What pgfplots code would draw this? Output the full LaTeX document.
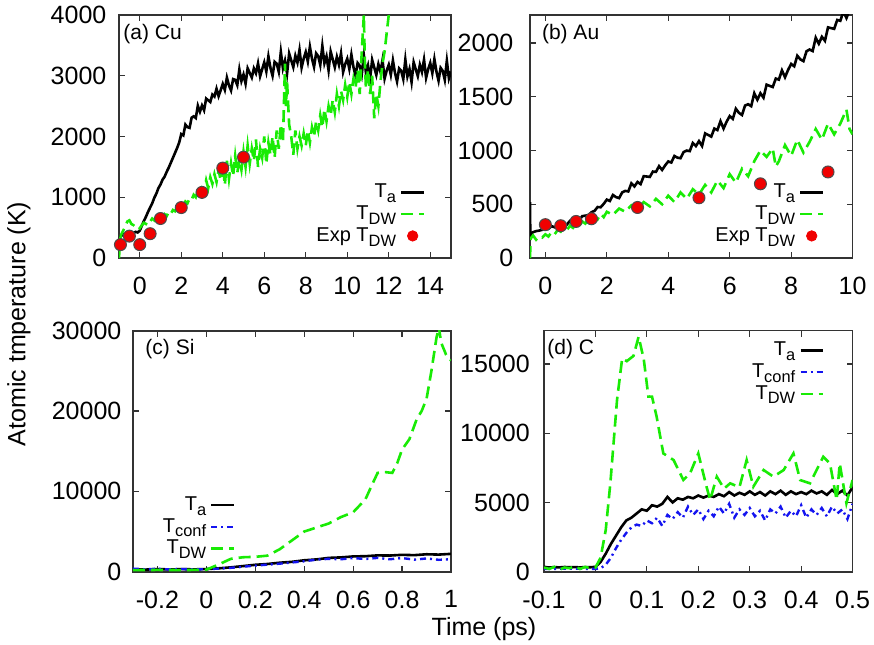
\documentclass[border=0pt]{standalone}
\usepackage{fontspec}
\setmainfont{Liberation Sans}
\usepackage{pgfplots}
\pgfplotsset{compat=1.18}
\definecolor{tdw}{RGB}{25,235,5}
\definecolor{tconf}{RGB}{20,20,240}
\definecolor{expred}{RGB}{240,0,0}
\newcommand{\sub}[1]{\raisebox{-0.45ex}{\fontsize{8.2}{9}\selectfont #1}}

\tikzset{plabel/.style={anchor=west, inner sep=0pt, font=\fontsize{10.5}{12}\selectfont}}
\pgfplotsset{
  panel/.style={
    scale only axis,
    anchor=south west,
    axis line style={line width=0.8pt, black!80},
    tick style={line width=0.6pt, black!80},
    major tick length=3pt,
    tick align=inside,
    tick label style={font=\fontsize{12.5}{14}\selectfont},
    xticklabel shift=6pt,
    /pgf/number format/assume math mode=true,
    /pgf/number format/1000 sep={},
    scaled ticks=false,
    legend style={draw=none, fill=none, font=\fontsize{10}{11}\selectfont,
                  legend cell align=right, row sep=-1.5pt, inner sep=1pt},
    legend plot pos=right,
    legend image code/.code={\draw[#1] (0cm,0cm) -- (0.4cm,0cm);},
  },
  ta/.style={black, line width=1.3pt},
  tdwl/.style={tdw, line width=1.3pt, dash pattern=on 6pt off 3pt},
  tconfl/.style={tconf, line width=1.2pt, dash pattern=on 3pt off 2pt on 1pt off 2pt},
  expm/.style={only marks, mark=*, mark size=3pt, mark options={fill=expred, draw=black!70, line width=0.5pt},
               legend image code/.code={\fill[expred] (0.2cm,0cm) circle (2.6pt);}},
}

\begin{document}
\begin{tikzpicture}
\useasboundingbox (0,0) rectangle (437pt,322pt);

% --- (a) Cu ---
\begin{axis}[panel,
  at={(59.5pt,193pt)}, width=166pt, height=121.5pt,
  xmin=-1, xmax=15, ymin=0, ymax=4000,
  xtick={0,2,...,14}, ytick={0,1000,...,4000},
  yticklabel shift=2.8pt,
  legend style={at={(0.93,0.03)}, anchor=south east},
]
\addplot[ta] coordinates {(-1,150)(-0.95,330)(-0.9,360)(-0.8,390)(-0.7,370)(-0.6,410)(-0.5,400)(-0.4,420)(-0.3,410)(-0.2,430)(-0.1,420)(0,450)(0.1,530)(0.2,610)(0.3,680)(0.4,760)(0.5,830)(0.6,900)(0.7,990)(0.8,1060)(0.9,1150)(1,1210)(1.1,1290)(1.2,1340)(1.3,1420)(1.4,1490)(1.5,1570)(1.6,1650)(1.7,1730)(1.8,1810)(1.9,1900)
(2,2040)(2.1,2018)(2.2,2196)(2.3,2154)(2.4,2142)(2.5,2310)(2.6,2332)(2.7,2304)(2.8,2506)(2.9,2408)(3,2510)(3.1,2432)(3.2,2624)(3.3,2596)(3.4,2568)(3.5,2690)(3.6,2658)(3.7,2786)(3.8,2664)(3.9,2762)
(4,2865)(4.1,2767)(4.2,2969)(4.3,2841)(4.4,2758)(4.5,2945)(4.6,2933)(4.7,2846)(4.8,3104)(4.9,2912)(5,3020)(5.1,2869)(5.2,3123)(5.3,3047)(5.4,2971)(5.5,3120)(5.6,3042)(5.7,3204)(5.8,2991)(5.9,3108)
(6,3220)(6.1,3070)(6.2,3320)(6.3,3130)(6.4,3000)(6.5,3230)(6.6,3198)(6.7,3066)(6.8,3394)(6.9,3122)(7,3250)(7.1,3038)(7.2,3366)(7.3,3254)(7.4,3142)(7.5,3330)(7.6,3218)(7.7,3426)(7.8,3134)(7.9,3282)
(8,3390)(8.1,3234)(8.2,3478)(8.3,3282)(8.4,3146)(8.5,3370)(8.6,3324)(8.7,3178)(8.8,3492)(8.9,3206)(9,3320)(9.1,3090)(9.2,3400)(9.3,3270)(9.4,3140)(9.5,3310)(9.6,3180)(9.7,3370)(9.8,3060)(9.9,3190)
(10,3280)(10.1,3114)(10.2,3348)(10.3,3142)(10.4,2996)(10.5,3210)(10.6,3166)(10.7,3022)(10.8,3338)(10.9,3054)(11,3170)(11.1,2946)(11.2,3262)(11.3,3138)(11.4,3014)(11.5,3190)(11.6,3064)(11.7,3258)(11.8,2952)(11.9,3086)
(12,3180)(12.1,3016)(12.2,3252)(12.3,3048)(12.4,2904)(12.5,3120)(12.6,3082)(12.7,2944)(12.8,3266)(12.9,2988)(13,3110)(13.1,2896)(13.2,3222)(13.3,3108)(13.4,2994)(13.5,3180)(13.6,3062)(13.7,3264)(13.8,2966)(13.9,3108)
(14,3210)(14.1,3042)(14.2,3274)(14.3,3066)(14.4,2918)(14.5,3130)(14.6,3082)(14.7,2934)(14.8,3246)(14.9,2958)(15,3070)};
\addlegendentry{T\sub{a}}
\addplot[tdwl] coordinates {(-1,0)(-0.95,300)(-0.9,380)(-0.8,450)(-0.7,520)(-0.6,600)(-0.5,620)(-0.4,560)(-0.3,540)(-0.2,510)(-0.1,530)(0,490)(0.1,540)(0.2,580)(0.3,560)(0.4,620)(0.5,600)(0.6,650)(0.7,620)(0.8,680)(0.9,640)(1,700)(1.1,660)(1.2,720)(1.3,690)(1.4,760)(1.5,730)(1.6,790)(1.7,770)(1.8,830)(1.9,800)(2,870)(2.1,860)(2.2,930)(2.3,900)(2.4,980)(2.5,960)(2.6,1040)(2.7,1000)(2.8,1100)(2.9,1060)(3,1150)(3.1,1100)(3.2,1280)(3.3,1150)(3.4,1330)(3.5,1220)(3.6,1380)(3.7,1250)(3.8,1450)(3.9,1280)(4,1550)(4.1,1200)(4.2,1600)(4.3,1300)(4.4,1560)(4.5,1350)(4.6,1680)(4.7,1400)(4.8,1620)(4.9,1450)(5,1750)(5.1,1500)(5.2,1850)(5.3,1550)(5.4,1800)(5.5,1600)(5.6,1950)(5.7,1500)(5.8,1800)(5.9,1650)(6,2000)(6.1,1550)(6.2,1900)(6.3,1700)(6.4,2000)(6.5,1650)(6.6,2100)(6.7,1800)(6.8,2200)(6.9,1900)(7,3200)(7.05,2500)(7.1,2900)(7.2,2200)(7.3,2000)(7.4,1700)(7.5,2100)(7.6,1800)(7.7,2000)(7.8,1850)(7.9,2050)(8,1850)(8.1,2100)(8.2,1900)(8.3,2150)(8.4,2000)(8.5,2250)(8.6,2100)(8.7,2350)(8.8,2150)(8.9,2450)(9,2250)(9.1,2500)(9.2,2350)(9.3,2600)(9.4,2400)(9.5,2700)(9.6,2500)(9.7,2750)(9.8,2600)(9.9,2850)(10,2650)(10.1,2900)(10.2,2700)(10.3,2950)(10.4,2800)(10.5,3100)(10.6,2700)(10.7,3400)(10.8,4000)(10.85,3200)(10.9,2800)(11,3100)(11.1,2700)(11.2,3000)(11.3,2300)(11.4,2700)(11.5,2500)(11.6,2900)(11.7,3200)(11.8,3400)(11.9,3700)(12,4000)};
\addlegendentry{T\sub{DW}}
\addplot[expm] coordinates {(-0.93,220)(-0.5,360)(0,220)(0.5,400)(1,650)(2,830)(3,1080)(4,1480)(5,1660)};
\addlegendentry{Exp T\sub{DW}}
\node[plabel] at (rel axis cs:0.012,0.92) {(a) Cu};
\end{axis}

% --- (b) Au ---
\begin{axis}[panel,
  at={(265pt,193pt)}, width=161.3pt, height=121.5pt,
  xmin=-0.5, xmax=10, ymin=0, ymax=2260,
  xtick={0,2,...,10}, ytick={0,500,...,2000},
  yticklabel shift=4.8pt,
  legend style={at={(0.92,0.03)}, anchor=south east},
]
\addplot[ta] coordinates {(-0.5,520)(-0.49,200)(-0.45,230)(-0.4,240)(-0.3,250)(-0.2,255)(-0.1,262)
(0,278)(0.1,271)(0.2,296)(0.3,286)(0.4,282)(0.5,305)(0.6,312)(0.7,311)(0.8,345)(0.9,334)(1,353)(1.1,350)(1.2,389)(1.3,394)(1.4,398)(1.5,426)(1.6,438)(1.7,474)(1.8,472)(1.9,504)
(2,543)(2.1,530)(2.2,586)(2.3,566)(2.4,557)(2.5,610)(2.6,624)(2.7,619)(2.8,695)(2.9,666)(3,707)(3.1,687)(3.2,761)(3.3,758)(3.4,754)(3.5,804)(3.6,801)(3.7,854)(3.8,819)(3.9,862)
(4,898)(4.1,888)(4.2,949)(4.3,933)(4.4,928)(4.5,985)(4.6,999)(4.7,994)(4.8,1070)(4.9,1041)
(5,1087)(5.1,1042)(5.2,1159)(5.3,1144)(5.4,1129)(5.5,1204)(5.6,1190)(5.7,1272)(5.8,1204)(5.9,1268)
(6,1320)(6.1,1294)(6.2,1388)(6.3,1350)(6.4,1330)(6.5,1418)(6.6,1430)(6.7,1412)(6.8,1532)(6.9,1472)
(7,1532)(7.1,1491)(7.2,1612)(7.3,1601)(7.4,1590)(7.5,1669)(7.6,1659)(7.7,1745)(7.8,1681)(7.9,1749)
(8,1805)(8.1,1783)(8.2,1881)(8.3,1847)(8.4,1831)(8.5,1923)(8.6,1939)(8.7,1925)(8.8,2049)(8.9,1993)
(9,2057)(9.1,2020)(9.2,2145)(9.3,2138)(9.4,2131)(9.5,2214)(9.6,2206)(9.7,2294)(9.8,2232)(9.9,2302)(10,2360)};
\addlegendentry{T\sub{a}}
\addplot[tdwl] coordinates {(-0.5,0)(-0.48,180)(-0.4,210)(-0.3,170)(-0.2,200)(-0.1,190)(0,220)(0.1,200)(0.2,240)(0.3,220)(0.4,260)(0.5,245)(0.6,280)(0.7,260)(0.8,300)(0.9,280)(1,320)(1.1,300)(1.2,340)(1.3,320)(1.4,360)(1.5,340)(1.6,390)(1.7,360)(1.8,410)(1.9,380)(2,430)(2.2,400)(2.4,460)(2.6,430)(2.8,490)(3,450)(3.2,520)(3.4,480)(3.6,550)(3.8,500)(4,580)(4.2,520)(4.4,610)(4.6,550)(4.8,640)(5,590)(5.2,680)(5.4,610)(5.6,720)(5.8,650)(6,780)(6.2,700)(6.4,830)(6.6,760)(6.8,900)(7,1000)(7.2,940)(7.4,1020)(7.5,850)(7.6,900)(7.8,1050)(8,950)(8.2,1100)(8.4,980)(8.6,1080)(8.8,1200)(9,1100)(9.2,1250)(9.4,1150)(9.6,1250)(9.8,1380)(9.9,1200)(10,1150)};
\addlegendentry{T\sub{DW}}
\addplot[expm] coordinates {(0,310)(0.5,300)(1,340)(1.5,365)(3,470)(5,560)(7,690)(9.2,800)};
\addlegendentry{Exp T\sub{DW}}
\node[plabel] at (rel axis cs:0.036,0.92) {(b) Au};
\end{axis}

% --- (c) Si ---
\begin{axis}[panel,
  at={(66.5pt,36.15pt)}, width=159pt, height=120.5pt,
  xmin=-0.3, xmax=1, ymin=0, ymax=30000,
  xtick={-0.2,0,0.2,0.4,0.6,0.8,1}, ytick={0,10000,20000,30000},
  yticklabel shift=2.3pt,
  legend style={at={(0.33,0.035)}, anchor=south east},
]
\addplot[ta] coordinates {(-0.3,300)(-0.25,260)(-0.2,330)(-0.15,280)(-0.1,320)(-0.05,290)(0,330)(0.05,420)(0.1,540)(0.15,700)(0.2,860)(0.25,960)(0.3,1120)(0.35,1230)(0.4,1420)(0.45,1530)(0.5,1720)(0.55,1780)(0.6,1900)(0.65,1930)(0.7,2030)(0.75,2010)(0.8,2100)(0.85,2060)(0.9,2170)(0.95,2130)(1,2220)};
\addlegendentry{T\sub{a}}
\addplot[tconfl] coordinates {(-0.3,380)(-0.25,300)(-0.2,360)(-0.15,280)(-0.1,340)(-0.05,270)(0,320)(0.05,380)(0.1,480)(0.15,620)(0.2,760)(0.25,880)(0.3,1000)(0.35,1150)(0.4,1300)(0.45,1500)(0.5,1600)(0.55,1550)(0.6,1700)(0.65,1580)(0.7,1720)(0.75,1550)(0.8,1700)(0.85,1500)(0.9,1650)(0.95,1480)(1,1550)};
\addlegendentry{T\sub{conf}}
\addplot[tdwl] coordinates {(-0.3,200)(-0.2,220)(-0.1,200)(0,250)(0.05,900)(0.1,1600)(0.15,1800)(0.2,1850)(0.25,2000)(0.3,2800)(0.35,3900)(0.4,5000)(0.45,5500)(0.5,6000)(0.55,6800)(0.6,7400)(0.65,9000)(0.68,11000)(0.7,12300)(0.73,12400)(0.76,12300)(0.78,13500)(0.8,15200)(0.83,16500)(0.86,19000)(0.88,20000)(0.9,21500)(0.92,25000)(0.94,29000)(0.95,30500)(0.96,28500)(0.98,27000)(1,26300)};
\addlegendentry{T\sub{DW}}
\node[plabel] at (rel axis cs:0.038,0.923) {(c) Si};
\end{axis}

% --- (d) C ---
\begin{axis}[panel,
  at={(272pt,36.15pt)}, width=154.3pt, height=120.5pt,
  xmin=-0.1, xmax=0.5, ymin=0, ymax=17400,
  xtick={-0.1,0,0.1,0.2,0.3,0.4,0.5}, ytick={0,5000,10000,15000},
  yticklabel shift=3.6pt,
  legend style={at={(0.917,0.98)}, anchor=north east},
]
\addplot[ta] coordinates {(-0.1,350)(-0.09,300)(-0.08,330)(-0.07,310)(-0.06,340)(-0.05,320)(-0.04,330)(-0.03,310)(-0.02,330)(-0.01,320)(0,350)(0.01,700)(0.02,1300)(0.03,2000)(0.04,2600)(0.05,3200)(0.06,3700)(0.07,3900)(0.08,4200)(0.09,4500)(0.1,4400)(0.11,4800)(0.12,4700)(0.13,4900)(0.14,5400)(0.15,5000)(0.16,5300)(0.17,5200)(0.18,5400)(0.19,5300)(0.2,5500)(0.21,5350)(0.22,5500)(0.23,5400)(0.24,5600)(0.25,5450)(0.26,5750)(0.27,5500)(0.28,5700)(0.29,5550)(0.3,5800)(0.31,5550)(0.32,5750)(0.33,5500)(0.34,5800)(0.35,5600)(0.36,5850)(0.37,5550)(0.38,5800)(0.39,5600)(0.4,5750)(0.41,5600)(0.42,5850)(0.43,5650)(0.44,5800)(0.45,5550)(0.46,5900)(0.47,5600)(0.48,5850)(0.49,5500)(0.5,6100)};
\addlegendentry{T\sub{a}}
\addplot[tconfl] coordinates {(-0.1,200)(-0.05,220)(0,200)(0.01,250)(0.02,500)(0.03,1000)(0.04,1700)(0.05,2300)(0.06,2800)(0.07,3200)(0.08,3400)(0.09,3300)(0.1,3700)(0.11,3500)(0.12,3900)(0.13,3300)(0.14,4100)(0.15,3800)(0.16,4300)(0.17,3900)(0.18,4700)(0.19,4100)(0.2,4500)(0.21,3800)(0.22,4400)(0.23,4000)(0.24,4700)(0.25,4200)(0.26,4900)(0.27,3900)(0.28,4500)(0.29,4100)(0.3,4600)(0.31,4000)(0.32,4400)(0.33,3700)(0.34,4500)(0.35,4200)(0.36,4700)(0.37,3900)(0.38,4400)(0.39,4000)(0.4,4800)(0.41,3900)(0.42,4500)(0.43,4100)(0.44,4600)(0.45,4000)(0.46,4700)(0.47,4200)(0.48,4500)(0.49,3800)(0.5,4900)};
\addlegendentry{T\sub{conf}}
\addplot[tdwl] coordinates {(-0.1,300)(-0.09,200)(-0.08,350)(-0.07,150)(-0.06,300)(-0.05,250)(-0.04,400)(-0.03,200)(-0.02,350)(-0.01,250)(0,300)(0.01,1000)(0.02,3000)(0.029,6380)(0.042,12400)(0.052,15400)(0.061,15200)(0.074,15580)(0.084,16970)(0.094,15330)(0.103,12640)(0.11,12640)(0.119,11190)(0.132,8540)(0.152,8060)(0.171,6620)(0.184,7100)(0.2,8540)(0.216,6140)(0.223,5180)(0.236,6860)(0.25,6000)(0.262,6380)(0.28,6100)(0.294,8060)(0.307,6140)(0.327,7340)(0.346,6860)(0.366,7340)(0.385,8540)(0.398,6620)(0.417,6380)(0.443,8300)(0.456,7820)(0.469,5180)(0.475,7820)(0.488,4940)(0.5,6620)};
\addlegendentry{T\sub{DW}}
\node[plabel] at (rel axis cs:0.01,0.923) {(d) C};
\end{axis}

\node[rotate=90, font=\fontsize{12.5}{14}\selectfont] at (9.5pt,160pt) {Atomic tmperature (K)};
\node[anchor=base, font=\fontsize{12.5}{14}\selectfont] at (242pt,4.5pt) {Time (ps)};
\end{tikzpicture}
\end{document}
